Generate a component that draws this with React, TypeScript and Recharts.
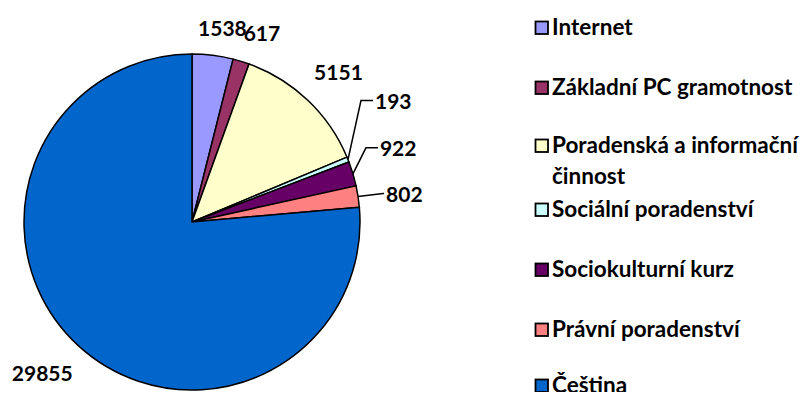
import React from "react";
import { PieChart, Pie, Cell, Legend } from "recharts";

const categories = [
  "Internet",
  "Základní PC gramotnost",
  "Poradenská a informační činnost",
  "Sociální poradenství",
  "Sociokulturní kurz",
  "Právní poradenství",
  "Čeština",
];
const values = [1538, 617, 5151, 193, 922, 802, 29855];
const colors = ["#9999FF", "#993366", "#FFFFCC", "#CCFFFF", "#660066", "#FF8080", "#0066CC"];

// label placement tweaks (dx, dy from default spot); leader = drawn with a line
const labelNudge = [
  { dx: 6, dy: 2 },
  { dx: 12, dy: 0 },
  { dx: 10, dy: -7 },
  { leader: true, ex: 13, ey: -59, tx: 27, ty: -59 },
  { leader: true, ex: 13, ey: -26, tx: 27, ty: -26 },
  { leader: true, ex: 25, ey: -3, tx: 28, ty: -3 },
  { dx: -16, dy: 4 },
];

const data = categories.map((name, i) => ({ name, value: values[i] }));

const FONT = "Lato, 'Noto Sans', sans-serif";
const RAD = Math.PI / 180;

const renderLabel = (props: any) => {
  const { cx, cy, midAngle, outerRadius, index, value } = props;
  const n: any = labelNudge[index];
  const cos = Math.cos(-midAngle * RAD);
  const sin = Math.sin(-midAngle * RAD);
  if (n.leader) {
    const sx = cx + outerRadius * cos;
    const sy = cy + outerRadius * sin;
    return (
      <g>
        <polyline
          points={`${sx},${sy} ${sx + n.ex},${sy + n.ey} ${sx + n.tx - 2},${sy + n.ty}`}
          fill="none"
          stroke="#000"
          strokeWidth={1.5}
        />
        <text
          x={sx + n.tx}
          y={sy + n.ty}
          textAnchor="start"
          dominantBaseline="central"
          fontFamily={FONT}
          fontWeight="bold"
          fontSize={21}
          fill="#000"
        >
          {value}
        </text>
      </g>
    );
  }
  const r = outerRadius + 30;
  const x = cx + r * cos + n.dx;
  const y = cy + r * sin + n.dy;
  return (
    <text
      x={x}
      y={y}
      textAnchor="middle"
      dominantBaseline="central"
      fontFamily={FONT}
      fontWeight="bold"
      fontSize={21}
      fill="#000"
    >
      {value}
    </text>
  );
};

// legend rows: baseline of first line for each entry
const legendRows = [35, 95, 153, 217, 277, 337, 393];

const renderLegend = () => (
  <svg width={282} height={400} style={{ display: "block" }}>
    {categories.map((name, i) => {
      const y = legendRows[i];
      const lines = name === "Poradenská a informační činnost" ? ["Poradenská a informační", "činnost"] : [name];
      return (
        <g key={name}>
          <rect x={5.5} y={y - 13.5} width={12.5} height={12.5} fill={colors[i]} stroke="#000" strokeWidth={1.8} />
          {lines.map((w, j) => (
            <text
              key={w}
              x={22}
              y={y + j * 31}
              fontFamily={FONT}
              fontWeight="bold"
              fontSize={22.5}
              fill="#000"
            >
              {w}
            </text>
          ))}
        </g>
      );
    })}
  </svg>
);

export default function App() {
  return (
    <div style={{ margin: -8, background: "#fff", width: 812, height: 400 }}>
      <PieChart width={812} height={400} margin={{ top: 0, right: 0, bottom: 0, left: 0 }}>
        <Pie
          data={data}
          dataKey="value"
          nameKey="name"
          cx={192}
          cy={222}
          outerRadius={168}
          startAngle={90}
          endAngle={-270}
          stroke="#000"
          strokeWidth={1.5}
          label={renderLabel}
          labelLine={false}
          isAnimationActive={false}
        >
          {data.map((d, i) => (
            <Cell key={d.name} fill={colors[i]} />
          ))}
        </Pie>
        <Legend
          content={renderLegend}
          wrapperStyle={{ position: "absolute", left: 530, top: 0, width: 282, height: 400 }}
        />
      </PieChart>
    </div>
  );
}
